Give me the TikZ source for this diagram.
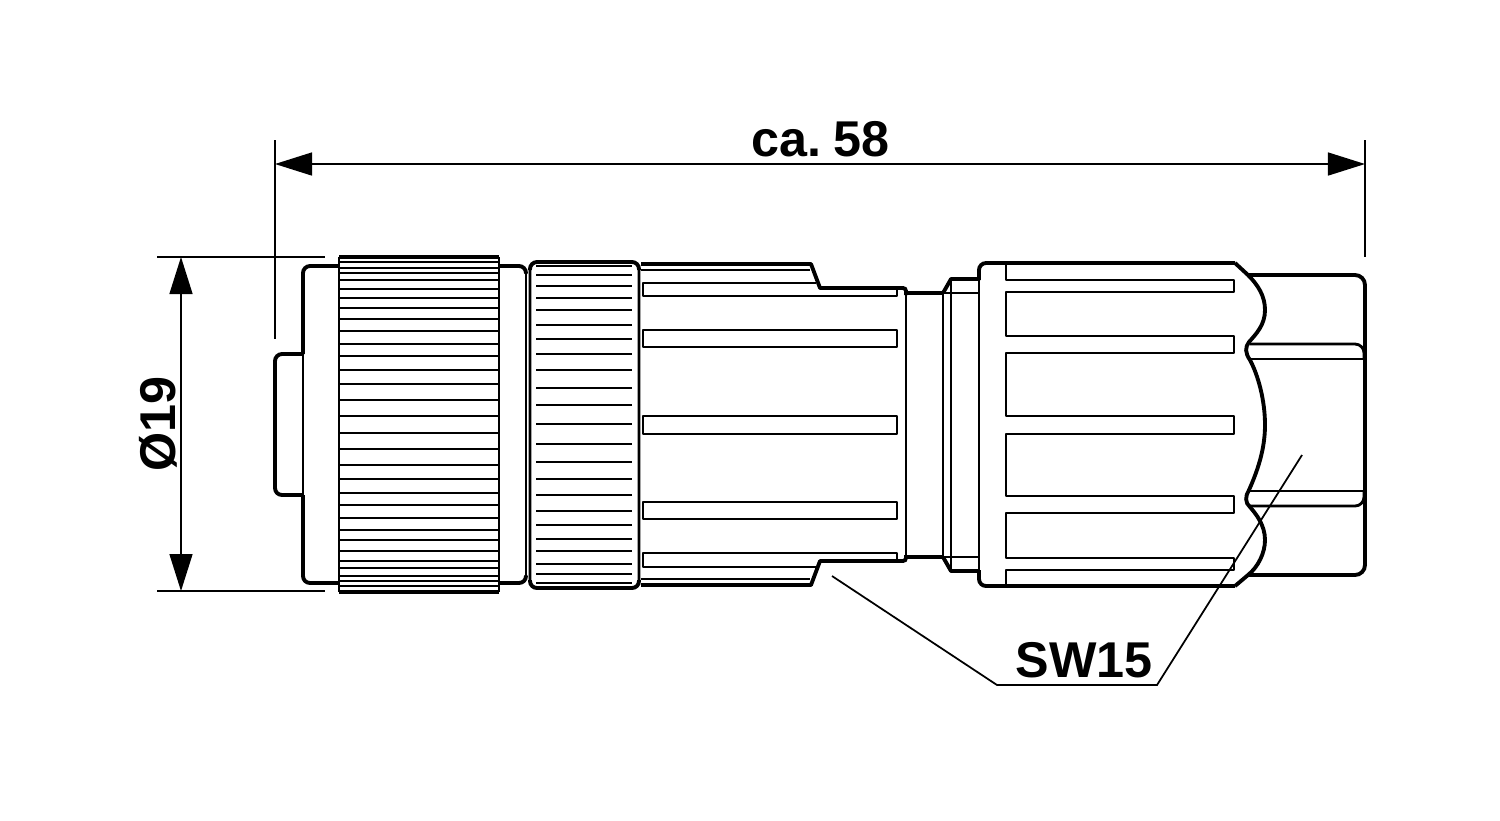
\documentclass[tikz,border=0pt]{standalone}
\usepackage{fontspec}
\setmainfont{Liberation Sans}
\usetikzlibrary{arrows.meta}
\tikzset{
	outline/.style={line width=1.1pt,line join=round,rounded corners=0.07cm},
	edge/.style={line width=0.8pt,line join=round},
	rib/.style={line width=0.7pt},
	dimline/.style={line width=0.42pt},
	dimarrow/.style={dimline,{Triangle[length=0.37cm,width=0.23cm]}-{Triangle[length=0.37cm,width=0.23cm]}},
	dimtext/.style={font=\fontsize{14.3}{17}\selectfont\bfseries,inner sep=0pt}
}
\begin{document}
\begin{tikzpicture}[x=0.01cm,y=-0.01cm]
	\useasboundingbox (0,0) rectangle (1500,820);
	% coordinates of the dimension lines
	\coordinate (W1) at (275,164);
	\coordinate (W2) at (1365,164);
	\coordinate (H1) at (181,257);
	\coordinate (H2) at (181,591);
	\coordinate (LA) at (832,576);
	\coordinate (LB) at (997,685);
	\coordinate (LC) at (1157,685);
	\coordinate (LD) at (1302,455);
	\node[dimtext] (width) at (820.5,139) {ca.\kern0.25em 58};
	\node[dimtext,rotate=90] (dia) at (158,424) {Ø19};
	\node[dimtext] (sw) at (1084,660) {SW15};
	\draw[dimarrow] (W1) to (W2);
	\draw[dimarrow] (H1) to (H2);
	\draw[dimline] (275,140) -- (275,339);
	\draw[dimline] (1365,140) -- (1365,257);
	\draw[dimline] (157,257) -- (325,257);
	\draw[dimline] (157,591) -- (325,591);
	\draw[dimline,line width=0.5pt] (LA) -- (LB) -- (LC) -- (LD);
	% front body
	\draw[outline] (339,266) -- (303,266) -- (303,354);
	\draw[outline] (303,354) -- (275,354) -- (275,495) -- (303,495);
	\draw[outline] (303,495) -- (303,583) -- (339,583);
	\draw[edge] (303,354) -- (303,495);
	\draw[outline] (499,266) -- (526,266) -- (526,272);
	\draw[outline] (499,583) -- (526,583) -- (526,577);
	\draw[edge] (526,272) -- (526,577);
	% knurled ring
	\draw[edge] (339,257) -- (339,592);
	\draw[edge] (499,257) -- (499,592);
	\draw[line width=1.1pt] (339,257) -- (499,257);
	\draw[line width=1.1pt] (339,592) -- (499,592);
	\foreach \y in {262,268,273,280,289,298,308,319,331,344,356,370,384,400,416,433,449,465,479,493,505,518,530,540,551,561,568,576,581,586}
		\draw[rib] (339,\y) -- (499,\y);
	% second ring
	\draw[edge,rounded corners=0.07cm] (530,262) rectangle (639,588);
	\draw[line width=1.1pt,rounded corners=0.07cm] (530,270) -- (530,262) -- (639,262) -- (639,270);
	\draw[line width=1.1pt,rounded corners=0.07cm] (530,580) -- (530,588) -- (639,588) -- (639,580);
	\foreach \y in {266,275,286,298,310,325,339,354,370,388,405,424,444,462,479,495,511,525,539,551,564,574,583}
		\draw[rib] (536,\y) -- (632,\y);
	% sleeve
	\draw[line width=1.1pt,line join=round] (641,264) -- (811,264) -- (820,288) -- (900,288);
	\draw[line width=1.1pt,rounded corners=0.03cm] (900,288) -- (906,288) -- (906,295);
	\draw[line width=1.1pt,rounded corners=0.03cm] (900,561) -- (906,561) -- (906,555);
	\draw[line width=1.1pt,line join=round] (641,585) -- (811,585) -- (820,561) -- (900,561);
	\draw[edge] (906,295) -- (906,555);
	\draw[rib] (641,270) -- (810,270);
	\draw[rib] (641,579) -- (810,579);
	\draw[edge] (816,283) -- (643,283) -- (643,296) -- (897,296) -- (897,288);
	\draw[edge] (816,567) -- (643,567) -- (643,553) -- (897,553) -- (897,561);
	\foreach \a/\b in {330/347,416/434,502/519}
		\draw[edge] (643,\a) rectangle (897,\b);
	% neck and collar
	\draw[line width=1.1pt] (906,293) -- (943,293);
	\draw[line width=1.1pt] (906,557) -- (943,557);
	\draw[edge] (943,293) -- (943,557);
	\draw[edge] (951,279) -- (951,571);
	\draw[rib] (943,293) -- (979,293);
	\draw[rib] (943,557) -- (979,557);
	\draw[line width=1.1pt,line join=round] (943,293) -- (951,279) -- (979,279);
	\draw[line width=1.1pt,line join=round] (943,557) -- (951,571) -- (979,571);
	% nut
	\draw[outline] (979,280) -- (979,263) -- (1235,263);
	\draw[outline] (979,570) -- (979,586) -- (1235,586);
	\draw[edge] (979,280) -- (979,570);
	\draw[line width=1.1pt,line join=round] (1235,263) -- (1248,275)
		.. controls (1258,285) and (1265,296) .. (1265,310)
		.. controls (1265,325) and (1256,334) .. (1249,342)
		.. controls (1245,347) and (1245,353) .. (1250,360)
		.. controls (1258,375) and (1265,400) .. (1265,425)
		.. controls (1265,450) and (1257,472) .. (1249,490)
		.. controls (1245,496) and (1245,503) .. (1250,507)
		.. controls (1256,514) and (1265,525) .. (1265,540)
		.. controls (1265,553) and (1258,567) .. (1248,575) -- (1235,586);
	\draw[edge] (1006,263) -- (1006,280) -- (1234,280) -- (1234,292) -- (1006,292)
		-- (1006,336) -- (1234,336) -- (1234,353) -- (1006,353)
		-- (1006,416) -- (1234,416) -- (1234,434) -- (1006,434)
		-- (1006,496) -- (1234,496) -- (1234,513) -- (1006,513)
		-- (1006,558) -- (1234,558) -- (1234,570) -- (1006,570) -- (1006,586);
	% cable end
	\draw[line width=1.1pt,rounded corners=0.1cm] (1248,275) -- (1365,275) -- (1365,575) -- (1248,575);
	\draw[edge,rounded corners=0.09cm] (1250,344) -- (1364,344) -- (1364,359);
	\draw[edge] (1250,359) -- (1364,359);
	\draw[edge] (1248,491) -- (1364,491);
	\draw[edge,rounded corners=0.09cm] (1364,491) -- (1364,506) -- (1250,506);
\end{tikzpicture}
\end{document}
